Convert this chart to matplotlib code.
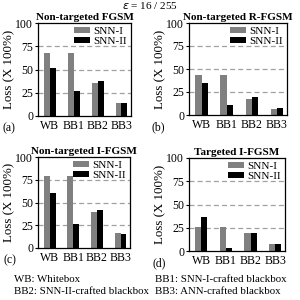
import numpy as np
import matplotlib.pyplot as plt

plt.rcParams['font.family'] = ['Liberation Serif', 'DejaVu Serif']

grupos = ['WB', 'BB1', 'BB2', 'BB3']
series = ['SNN-I', 'SNN-II']

titulos = ['Non-targeted FGSM', 'Non-targeted R-FGSM', 'Non-targeted I-FGSM', 'Targeted I-FGSM']
letras = ['(a)', '(b)', '(c)', '(d)']

snn1_a = [68, 68, 36, 14]
snn2_a = [52, 27, 38, 14]
snn1_b = [43, 43, 17, 6]
snn2_b = [35, 11, 20, 8]
snn1_c = [79, 79, 40, 17]
snn2_c = [60, 26, 42, 15]
snn1_d = [26, 26, 19, 7]
snn2_d = [37, 3, 19, 8]

dados = [(snn1_a, snn2_a), (snn1_b, snn2_b), (snn1_c, snn2_c), (snn1_d, snn2_d)]

cor = ['#808080', '#000000']

fig = plt.figure(figsize=(3, 3), dpi=100)

# posicoes dos eixos em pixels (esq, dir, topo, base)
caixas = [(38, 131, 23, 116), (189, 287, 23, 115), (38, 130, 157, 248), (189, 285, 158, 251)]

largura = 0.25
x = np.arange(len(grupos))

for i, (s1, s2) in enumerate(dados):
    e, d, t, b = caixas[i]
    ax = fig.add_axes([e / 300, 1 - b / 300, (d - e) / 300, (b - t) / 300])
    for yv in [25, 50, 75]:
        ax.axhline(yv, color='#a0a0a0', linestyle=(0, (4, 2.5)), linewidth=0.9, zorder=0)
    ax.bar(x - largura / 2, s1, width=largura, color=cor[0], label=series[0], zorder=2)
    ax.bar(x + largura / 2, s2, width=largura, color=cor[1], label=series[1], zorder=2)
    ax.set_xlim(-0.5, 3.4)
    ax.set_ylim(0, 100)
    ax.set_yticks([0, 25, 50, 75, 100])
    ax.set_xticks(x)
    ax.set_xticklabels(grupos)
    ax.tick_params(labelsize=8.5, length=2, width=0.8, pad=1.5)
    ax.tick_params(axis='x', length=0, pad=3)
    for sp in ax.spines.values():
        sp.set_linewidth(0.9)
    ax.set_ylabel('Loss (X 100%)', fontsize=9.3, labelpad=0)
    ax.set_title(titulos[i], fontsize=8.0, fontweight='bold', pad=2.5)
    ax.legend(loc='upper right', fontsize=8, frameon=False, handlelength=1.5, handleheight=0.5,
              borderaxespad=0.15, borderpad=0.2, labelspacing=0.1, handletextpad=0.3)
    ax.text(-0.38, -0.13, letras[i], transform=ax.transAxes, fontsize=8.5, va='center')

fig.text(0.5, 0.982, r'$\varepsilon$ = 16 / 255', ha='center', va='center', fontsize=8)
fig.text(14 / 300, 1 - 279 / 300, 'WB: Whitebox', fontsize=7.8, va='center')
fig.text(155 / 300, 1 - 279 / 300, 'BB1: SNN-I-crafted blackbox', fontsize=7.8, va='center')
fig.text(14 / 300, 1 - 292 / 300, 'BB2: SNN-II-crafted blackbox', fontsize=7.8, va='center')
fig.text(155 / 300, 1 - 292 / 300, 'BB3: ANN-crafted blackbox', fontsize=7.8, va='center')

plt.savefig('out.png', dpi=100)
